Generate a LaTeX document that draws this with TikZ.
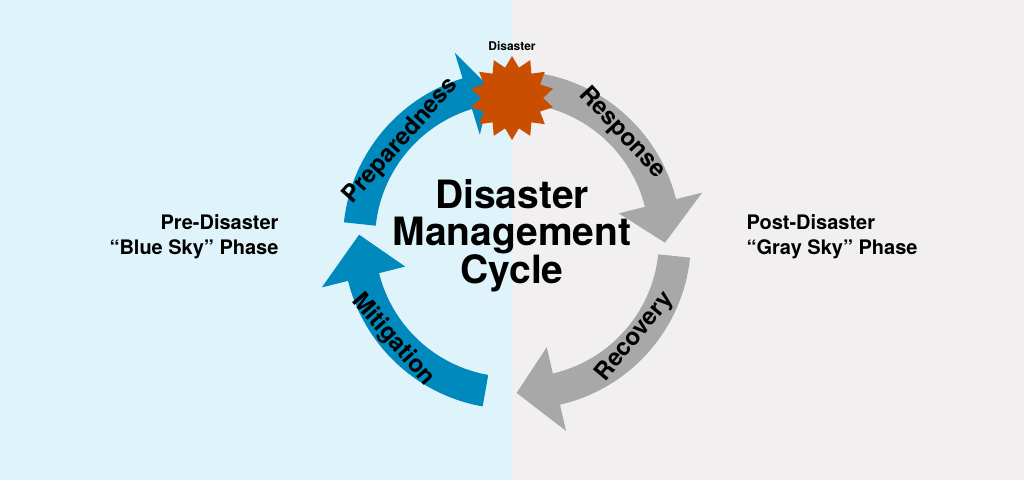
\documentclass[tikz,border=0pt]{standalone}
\usepackage{fontspec}
\setmainfont{TeX Gyre Heros}
\usetikzlibrary{shapes.geometric}
\definecolor{skyblue}{HTML}{DFF3FA}
\definecolor{skygray}{HTML}{F1EFF0}
\definecolor{cycleblue}{HTML}{0089BD}
\definecolor{cyclegray}{HTML}{A8A8A8}
\definecolor{disasterred}{HTML}{C94E00}
\tikzset{
    phaselabel/.style={font=\fontsize{20}{25}\selectfont\bfseries},
    arclabel/.style={font=\fontsize{24}{26}\selectfont\bfseries, inner sep=0pt},
}
% band of the cycle with arrow head: start angle, end angle, tip angle, colour
\newcommand{\cyclearrow}[4]{%
    \fill[#4] (#1:137) arc[start angle=#1, end angle=#2, radius=137]
        -- (#2:110) -- (#3:153) -- (#2:196) -- (#2:169)
        arc[start angle=#2, end angle=#1, radius=169] -- cycle;}
\begin{document}
\begin{tikzpicture}[x=1pt,y=1pt]

    % Background halves
    \fill[skyblue] (0,0) rectangle (512,480);
    \fill[skygray] (512,0) rectangle (1024,480);
    \useasboundingbox (0,0) rectangle (1024,480);

    % Cycle arrows
    \begin{scope}[shift={(512,240)}]
        \cyclearrow{174}{107}{98}{cycleblue}
        \cyclearrow{80}{14}{-1}{cyclegray}
        \cyclearrow{260}{194}{178}{cycleblue}
    \end{scope}
    \begin{scope}[shift={(522,240)}]
        \cyclearrow{-6}{-77}{-92}{cyclegray}
    \end{scope}

    % Disaster star
    \node[star, star points=14, star point ratio=1.35, minimum size=84pt,
          inner sep=0pt, fill=disasterred] (burst) at (512,382) {};
    \node[font=\fontsize{12}{14}\selectfont\bfseries] (burstlabel) at (512,434) {Disaster};

    % Phase labels
    \node[arclabel, rotate=48] (prep) at (401,339) {Preparedness};
    \node[arclabel, rotate=-47] (resp) at (622,347) {Response};
    \node[arclabel, rotate=50] (recov) at (635,143) {Recovery};
    \node[arclabel, rotate=-49] (mitig) at (393,140) {Mitigation};

    % Title
    \node[font=\fontsize{39}{37}\selectfont\bfseries, align=center] (title) at (512,244)
        {Disaster\\Management\\Cycle};

    % Side labels
    \node[phaselabel, align=right, anchor=east] (pre) at (282,243)
        {Pre-Disaster\\“Blue Sky” Phase};
    \node[phaselabel, align=left, anchor=west] (post) at (743,243)
        {Post-Disaster\\“Gray Sky” Phase};

\end{tikzpicture}
\end{document}
